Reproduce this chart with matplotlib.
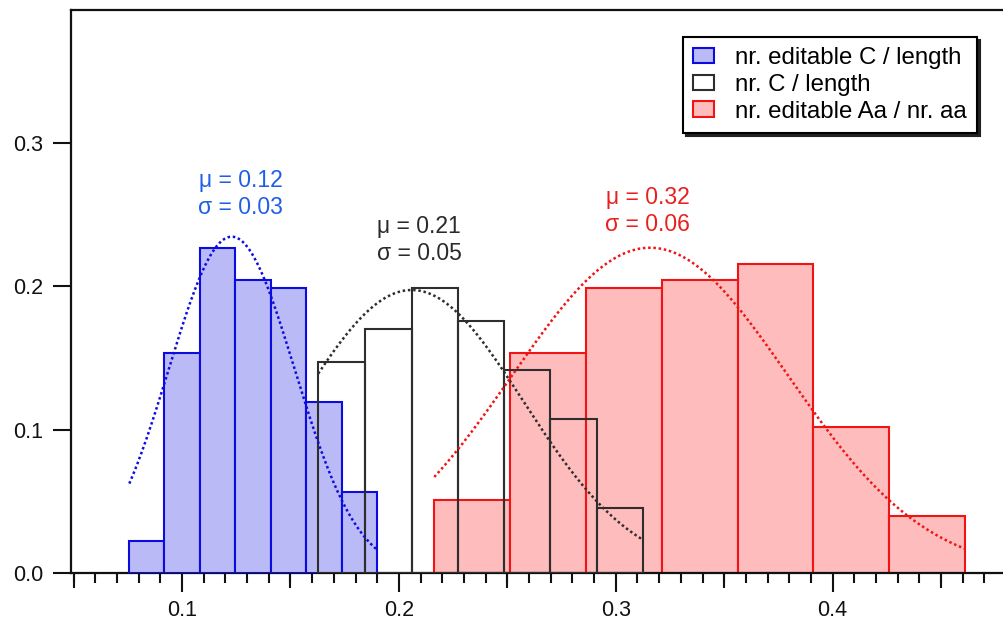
import numpy as np
import matplotlib
matplotlib.use("Agg")
import matplotlib.pyplot as plt
from matplotlib.patches import Patch

plt.rcParams['font.family'] = ['Liberation Sans', 'DejaVu Sans']

# ---------------- data ----------------
blue_edges = [0.0757, 0.0918, 0.1083, 0.1246, 0.1409, 0.1573, 0.1736, 0.1898]
blue_vals = [0.0225, 0.1535, 0.2270, 0.2045, 0.1990, 0.1190, 0.0565]

black_edges = [0.1628, 0.1844, 0.2059, 0.2271, 0.2486, 0.2697, 0.2912, 0.3124]
black_vals = [0.1475, 0.1700, 0.1987, 0.1759, 0.1419, 0.1077, 0.0451]

red_edges = [0.2163, 0.2512, 0.2863, 0.3212, 0.3562, 0.3911, 0.4260, 0.4610]
red_vals = [0.0510, 0.1533, 0.1987, 0.2045, 0.2156, 0.1019, 0.0398]

# Gaussian fits: (mu, sigma, amplitude)
blue_fit = (0.1229, 0.0290, 0.2347)
black_fit = (0.2059, 0.0515, 0.1975)
red_fit = (0.3158, 0.0637, 0.2270)

labels = ["nr. editable C / length", "nr. C / length", "nr. editable Aa / nr. aa"]
blue_txt = "\u03bc = 0.12\n\u03c3 = 0.03"
black_txt = "\u03bc = 0.21\n\u03c3 = 0.05"
red_txt = "\u03bc = 0.32\n\u03c3 = 0.06"

# ---------------- styling ----------------
BLUE_FILL, BLUE_EDGE, BLUE_TXT = "#babaf6", "#0c0ce0", "#1f5fe6"
RED_FILL, RED_EDGE, RED_TXT = "#ffbcbc", "#f01414", "#e8201e"
BLK_EDGE, BLK_TXT = "#2e2e2e", "#2a2a2a"

fig = plt.figure(figsize=(10.04, 6.28), dpi=100)
W, H = 1004, 628
ax = fig.add_axes([71 / W, (H - 573) / H, (W - 71) / W + 0.01, (573 - 10) / H])


def hist(edges, vals, fc, ec, z):
    e = np.asarray(edges)
    ax.bar(e[:-1], vals, width=np.diff(e), align='edge', facecolor=fc,
           edgecolor=ec, linewidth=1.5, zorder=z)


def gauss(fit, edges, color):
    mu, sig, amp = fit
    x = np.linspace(edges[0], edges[-1], 300)
    ax.plot(x, amp * np.exp(-(x - mu) ** 2 / (2 * sig ** 2)), color=color,
            linestyle=(0, (1, 1.1)), linewidth=1.8, zorder=6)


hist(red_edges, red_vals, RED_FILL, RED_EDGE, 2)
hist(blue_edges, blue_vals, BLUE_FILL, BLUE_EDGE, 3)
hist(black_edges, black_vals, 'none', BLK_EDGE, 4)

gauss(blue_fit, blue_edges, BLUE_EDGE)
gauss(black_fit, black_edges, BLK_EDGE)
gauss(red_fit, red_edges, RED_EDGE)

fs_ann = 16.5
ax.text(0.1270, 0.2648, blue_txt, color=BLUE_TXT, fontsize=fs_ann, ha='center',
        va='center', multialignment='center', linespacing=1.22)
ax.text(0.2093, 0.2327, black_txt, color=BLK_TXT, fontsize=fs_ann, ha='center',
        va='center', multialignment='center', linespacing=1.22)
ax.text(0.3146, 0.2525, red_txt, color=RED_TXT, fontsize=fs_ann, ha='center',
        va='center', multialignment='center', linespacing=1.22)

ax.set_xlim(0.0488, 0.4790 + 0.01 * (0.4790 - 0.0488) / ((W - 71) / W))
ax.set_ylim(0, 0.3929)

for s in ['left', 'bottom', 'top']:
    ax.spines[s].set_linewidth(1.6)
    ax.spines[s].set_color('#111111')
ax.spines['right'].set_visible(False)

ax.set_yticks([0.0, 0.1, 0.2, 0.3])
ax.set_yticklabels(["0.0", "0.1", "0.2", "0.3"])
ax.set_xticks([0.1, 0.2, 0.3, 0.4])
ax.set_xticklabels(["0.1", "0.2", "0.3", "0.4"])
ax.set_xticks(np.round(np.arange(0.05, 0.475, 0.01), 3), minor=True)
ax.tick_params(axis='y', which='major', direction='out', length=13, width=1.5,
               pad=7, labelsize=15.5, color='#111111', labelcolor='#111111')
ax.tick_params(axis='x', which='major', direction='out', length=14, width=1.5,
               pad=5.5, labelsize=15.5, color='#111111', labelcolor='#111111')
ax.tick_params(axis='x', which='minor', direction='out', length=7, width=1.5,
               color='#111111')

# medium ticks at the half-decades
sec = ax.secondary_xaxis('bottom')
sec.set_xticks([0.05, 0.15, 0.25, 0.35, 0.45])
sec.set_xticklabels([])
sec.spines['bottom'].set_visible(False)
sec.tick_params(axis='x', direction='out', length=10.5, width=1.5, color='#111111')

handles = [Patch(facecolor=BLUE_FILL, edgecolor=BLUE_EDGE, linewidth=1.5),
           Patch(facecolor='white', edgecolor=BLK_EDGE, linewidth=1.5),
           Patch(facecolor=RED_FILL, edgecolor=RED_EDGE, linewidth=1.5)]
leg = ax.legend(handles, labels, loc='upper right',
                bbox_to_anchor=((977 - 71) / (1004 - 71 + 0.01 * W), (573 - 37) / (573 - 10)),
                borderaxespad=0, fontsize=17.3, frameon=True, fancybox=False,
                shadow={'color': '#222222', 'alpha': 1.0}, handlelength=0.85,
                handleheight=0.62, handletextpad=0.9, labelspacing=0.2,
                borderpad=0.42)
leg.get_frame().set_edgecolor('black')
leg.get_frame().set_linewidth(1.5)
leg.set_zorder(10)

fig.savefig("out.png", dpi=100)
